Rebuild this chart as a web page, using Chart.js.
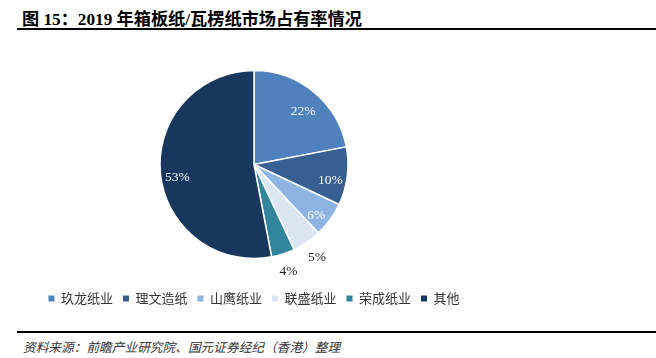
<!DOCTYPE html>
<html><head><meta charset="utf-8">
<script src="https://cdn.jsdelivr.net/npm/chart.js@4/dist/chart.umd.min.js"></script>
<style>
html,body{margin:0;padding:0;background:#fff;width:656px;height:358px;overflow:hidden;}
#title{position:absolute;left:22px;top:5px;font:bold 17.2px "Liberation Serif","Noto Sans CJK SC",serif;color:#000;white-space:nowrap;}
#tline{position:absolute;left:17px;right:0;top:28px;height:2px;background:#000;}
#bline{position:absolute;left:17px;right:0;top:331px;height:2px;background:#000;}
#src{position:absolute;left:23px;top:337px;font:italic 12.7px "Noto Sans CJK SC",sans-serif;color:#333;white-space:nowrap;}
#wrap{position:absolute;left:0;top:40px;width:508px;height:280px;}
</style></head><body>
<div id="title">图 15：2019 年箱板纸/瓦楞纸市场占有率情况</div>
<div id="tline"></div>
<div id="wrap"><canvas id="c"></canvas></div>
<div id="bline"></div>
<div id="src">资料来源：前瞻产业研究院、国元证券经纪（香港）整理</div>
<script>
const categories = ["玖龙纸业","理文造纸","山鹰纸业","联盛纸业","荣成纸业","其他"];
const shares = [22,10,6,5,4,53];
const colors = ["#4F81BD","#375F92","#8DB4E2","#DCE6F2","#31859C","#17375E"];

const labelPlugin = {
  id:'pieLabels',
  afterDatasetsDraw(chart){
    const ctx = chart.ctx;
    const meta = chart.getDatasetMeta(0);
    ctx.save();
    ctx.font = '13.5px "Liberation Serif", serif';
    ctx.textAlign = 'center';
    ctx.textBaseline = 'middle';
    meta.data.forEach((arc,i)=>{
      const p = arc.getProps(['x','y','startAngle','endAngle','outerRadius'],true);
      const mid = (p.startAngle+p.endAngle)/2;
      const v = shares[i];
      let r, col, dy;
      if (v < 6) { r = p.outerRadius + 18; col = '#222'; dy = 0; }
      else { r = p.outerRadius * 0.82; col = '#fff'; dy = 6; }
      ctx.fillStyle = col;
      ctx.fillText(v + '%', p.x + Math.cos(mid)*r, p.y + Math.sin(mid)*r + dy);
    });
    ctx.restore();
  }
};

new Chart(document.getElementById('c'), {
  type:'pie',
  data:{labels:categories, datasets:[{data:shares, backgroundColor:colors, borderColor:'#fff', borderWidth:1.5}]},
  options:{
    responsive:true, maintainAspectRatio:false, animation:false,
    radius:94,
    layout:{padding:{top:7,bottom:5}},
    plugins:{
      tooltip:{enabled:false},
      legend:{position:'bottom', labels:{
        boxWidth:6, boxHeight:6, padding:10, color:'#333',
        font:{size:13, family:'"Noto Sans CJK SC", sans-serif'},
        generateLabels(chart){
          return Chart.overrides.pie.plugins.legend.labels.generateLabels(chart)
            .map(l => Object.assign(l, {lineWidth:0, strokeStyle:l.fillStyle}));
        }
      }}
    }
  },
  plugins:[labelPlugin]
});
</script>
</body></html>
